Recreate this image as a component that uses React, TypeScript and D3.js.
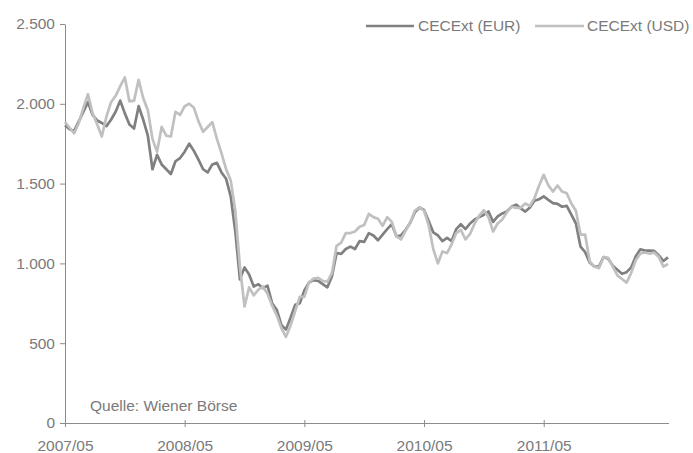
import React, { useEffect, useRef } from 'react';
import * as d3 from 'd3';

const width = 693;
const height = 453;

// plot frame
const margin = { top: 24, right: 25, bottom: 30, left: 65 };

// x axis: weeks counted from 2007/05, every second week is sampled
const tickWeeks = [0, 52, 104, 156, 208];
const tickLabels = ['2007/05', '2008/05', '2009/05', '2010/05', '2011/05'];
const yTicks = [0, 500, 1000, 1500, 2000, 2500];

// CECExt in EUR, two-week steps
const eur = [
  1866, 1840, 1830, 1890, 1950, 2010, 1930, 1895, 1880, 1860,
  1900, 1950, 2020, 1940, 1870, 1845, 1985, 1900, 1800, 1590,
  1680, 1620, 1590, 1560, 1640, 1660, 1700, 1750, 1705, 1650,
  1590, 1570, 1620, 1630, 1570, 1530, 1420, 1200, 900, 975,
  930, 855, 870, 845, 860, 750, 710, 615, 585, 660,
  740, 750, 830, 880, 895, 890, 870, 850, 920, 1065,
  1060, 1090, 1105, 1090, 1140, 1135, 1190, 1175, 1145, 1180,
  1215, 1245, 1170, 1175, 1210, 1255, 1320, 1350, 1335, 1265,
  1195, 1175, 1140, 1160, 1140, 1215, 1245, 1215, 1250, 1275,
  1290, 1305, 1325, 1260, 1295, 1313, 1325, 1355, 1368, 1345,
  1325, 1350, 1392, 1402, 1420, 1398, 1378, 1373, 1355, 1360,
  1305, 1250, 1105, 1070, 1005, 980, 980, 1040, 1030, 985,
  960, 935, 945, 975, 1045, 1088, 1080, 1080, 1078, 1050,
  1015, 1038
];

// CECExt in USD, same weeks
const usd = [
  1886, 1850, 1815, 1880, 1975, 2060, 1940, 1870, 1795, 1920,
  2010, 2050, 2110, 2165, 2015, 2020, 2150, 2035, 1960, 1780,
  1700, 1855, 1800, 1795, 1950, 1930, 1985, 2000, 1975, 1890,
  1825, 1855, 1885, 1780, 1690, 1590, 1520, 1330, 980, 730,
  850, 800, 835, 855, 810, 735, 675, 595, 540, 610,
  700, 790, 790, 880, 905, 910, 890, 885, 940, 1110,
  1130, 1190, 1190, 1200, 1230, 1240, 1310, 1290, 1280, 1235,
  1290, 1260, 1170, 1150, 1205, 1255, 1330, 1352, 1330, 1240,
  1090, 1000, 1075, 1065, 1120, 1190, 1210, 1150, 1185, 1250,
  1300, 1333, 1290, 1200, 1250, 1275, 1320, 1355, 1348, 1348,
  1375, 1360, 1410, 1488, 1555, 1490, 1450, 1488, 1450, 1440,
  1375, 1330, 1180, 1180, 1012, 980, 970, 1040, 1035, 980,
  925, 902, 880, 940, 1020, 1062, 1068, 1060, 1068, 1040,
  980, 996
];

const series = [
  { name: 'CECExt (EUR)', values: eur, color: '#808080' },
  { name: 'CECExt (USD)', values: usd, color: '#c0c0c0' }
];

const textColor = '#7a7a7a';
const axisColor = '#8c8c8c';
const font = '"Liberation Sans", Arial, sans-serif';
const fontSize = '15.5px';

const lastWeek = (eur.length - 1) * 2;

const xScale = d3
  .scaleLinear()
  .domain([0, lastWeek])
  .range([margin.left, width - margin.right]);

const yScale = d3
  .scaleLinear()
  .domain([0, 2500])
  .range([height - margin.bottom, margin.top]);

const de = d3.formatLocale({ decimal: ',', thousands: '.', grouping: [3], currency: ['', ' €'] });
const fmt = de.format(',d');

const App = () => {
  const xAxisRef = useRef<SVGGElement>(null);
  const yAxisRef = useRef<SVGGElement>(null);

  useEffect(() => {
    const xAxis = d3
      .axisBottom(xScale)
      .tickValues(tickWeeks)
      .tickFormat((d, i) => tickLabels[i])
      .tickSizeOuter(0);
    const gx = d3.select(xAxisRef.current);
    gx.call(xAxis as any);
    gx.select('.domain').attr('stroke', axisColor).attr('d', `M${margin.left},0.5H${width - margin.right + 1}`);
    // ticks cross the axis line
    gx.selectAll('.tick line').attr('stroke', axisColor).attr('y1', -3).attr('y2', 4);
    gx.selectAll('.tick text')
      .attr('y', 17)
      .attr('fill', textColor)
      .style('font-size', fontSize)
      .style('font-family', font);

    const yAxis = d3
      .axisLeft(yScale)
      .tickValues(yTicks)
      .tickFormat(d => fmt(d as number))
      .tickSize(5)
      .tickSizeOuter(0)
      .tickPadding(5);
    const gy = d3.select(yAxisRef.current);
    gy.call(yAxis as any);
    gy.select('.domain').attr('stroke', axisColor);
    gy.selectAll('.tick line').attr('stroke', axisColor);
    gy.selectAll('.tick text').attr('fill', textColor).style('font-size', fontSize).style('font-family', font);
  });

  const line = d3
    .line<number>()
    .x((d, i) => xScale(i * 2))
    .y(d => yScale(d));

  return (
    <svg
      width={width}
      height={height}
      style={{ position: 'absolute', left: 0, top: 0, background: '#fff' }}
    >
      <g ref={yAxisRef} transform={`translate(${margin.left}, 0)`} />
      <g ref={xAxisRef} transform={`translate(0, ${height - margin.bottom})`} />

      {series.map(s => (
        <path
          key={s.name}
          d={line(s.values) || ''}
          fill="none"
          stroke={s.color}
          strokeWidth={2.7}
          strokeLinejoin="round"
        />
      ))}

      {/* legend, top right */}
      <g fontFamily={font} fontSize={fontSize} fill={textColor}>
        <line x1={366} x2={414} y1={26} y2={26} stroke={series[0].color} strokeWidth={2.7} />
        <text x={418} y={26} dy="0.35em">{series[0].name}</text>
        <line x1={535} x2={584} y1={26} y2={26} stroke={series[1].color} strokeWidth={2.7} />
        <text x={587} y={26} dy="0.35em">{series[1].name}</text>
      </g>

      <text x={90} y={406} dy="0.35em" fontFamily={font} fontSize={fontSize} fill={textColor}>
        Quelle: Wiener Börse
      </text>
    </svg>
  );
};

export default App;
